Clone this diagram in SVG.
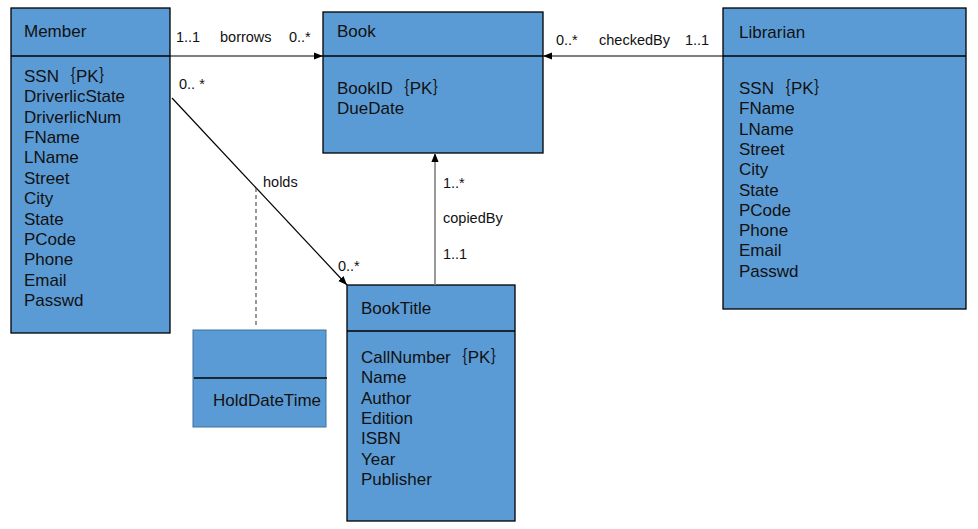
<svg xmlns="http://www.w3.org/2000/svg" width="978" height="529" viewBox="0 0 978 529">
<defs>
<style>
.box{fill:#5b9bd5;stroke:#000;stroke-width:1.3}
.div{stroke:#000;stroke-width:1.3}
text{font-family:"Liberation Sans","Noto Sans CJK SC",Arial,sans-serif;fill:#111}
.t{font-size:17px}
.a{font-size:17px}
.l{font-size:14.5px}
.conn{stroke:#000;stroke-width:1.2;fill:none}
</style>
<marker id="arr" viewBox="0 0 10 10" refX="10" refY="5" markerWidth="9" markerHeight="9" markerUnits="userSpaceOnUse" orient="auto">
<path d="M0,1 L10,5 L0,9 Z" fill="#000"/>
</marker>
</defs>
<rect width="978" height="529" fill="#fff"/>

<g id="member">
<rect class="box" x="11" y="8" width="159" height="325"/>
<line class="div" x1="11" y1="56" x2="170" y2="56"/>
<text class="t" x="24" y="37">Member</text>
<text class="a" x="24" y="82">SSN｛PK｝</text>
<text class="a" x="24" y="102.4">DriverlicState</text>
<text class="a" x="24" y="122.7">DriverlicNum</text>
<text class="a" x="24" y="143.1">FName</text>
<text class="a" x="24" y="163.4">LName</text>
<text class="a" x="24" y="183.8">Street</text>
<text class="a" x="24" y="204.2">City</text>
<text class="a" x="24" y="224.5">State</text>
<text class="a" x="24" y="244.9">PCode</text>
<text class="a" x="24" y="265.2">Phone</text>
<text class="a" x="24" y="285.6">Email</text>
<text class="a" x="24" y="306">Passwd</text>
</g>

<g id="book">
<rect class="box" x="323" y="12" width="220" height="141"/>
<line class="div" x1="323" y1="56" x2="543" y2="56"/>
<text class="t" x="337" y="37">Book</text>
<text class="a" x="337" y="94">BookID｛PK｝</text>
<text class="a" x="337" y="114">DueDate</text>
</g>

<g id="librarian">
<rect class="box" x="723" y="8" width="243" height="301"/>
<line class="div" x1="723" y1="56" x2="966" y2="56"/>
<text class="t" x="739" y="38">Librarian</text>
<text class="a" x="739" y="94">SSN｛PK｝</text>
<text class="a" x="739" y="114.3">FName</text>
<text class="a" x="739" y="134.6">LName</text>
<text class="a" x="739" y="154.9">Street</text>
<text class="a" x="739" y="175.2">City</text>
<text class="a" x="739" y="195.5">State</text>
<text class="a" x="739" y="215.8">PCode</text>
<text class="a" x="739" y="236.1">Phone</text>
<text class="a" x="739" y="256.4">Email</text>
<text class="a" x="739" y="276.7">Passwd</text>
</g>

<g id="booktitle">
<rect class="box" x="347" y="285" width="168" height="236"/>
<line class="div" x1="347" y1="331" x2="515" y2="331"/>
<text class="t" x="361" y="314">BookTitle</text>
<text class="a" x="361" y="363">CallNumber｛PK｝</text>
<text class="a" x="361" y="383.3">Name</text>
<text class="a" x="361" y="403.7">Author</text>
<text class="a" x="361" y="424">Edition</text>
<text class="a" x="361" y="444.3">ISBN</text>
<text class="a" x="361" y="464.7">Year</text>
<text class="a" x="361" y="485">Publisher</text>
</g>

<g id="hold">
<rect x="193" y="330" width="133" height="97" fill="#5b9bd5" stroke="#41719c" stroke-width="1"/>
<line class="div" x1="194" y1="378" x2="327" y2="378"/>
<text class="a" x="213" y="406">HoldDateTime</text>
</g>

<g id="connectors">
<line class="conn" x1="170" y1="56" x2="323" y2="56" marker-end="url(#arr)"/>
<line class="conn" x1="723" y1="56" x2="543" y2="56" marker-end="url(#arr)"/>
<line class="conn" x1="172" y1="98" x2="347" y2="285" marker-end="url(#arr)"/>
<line x1="435" y1="285" x2="435" y2="153" stroke="#7f7f7f" stroke-width="1.6" marker-end="url(#arr)"/>
<line x1="256" y1="188" x2="256" y2="328" stroke="#444" stroke-width="1.1" stroke-dasharray="4,3"/>
<text class="l" x="176" y="42">1..1</text>
<text class="l" x="220" y="42">borrows</text>
<text class="l" x="289" y="42">0..*</text>
<text class="l" x="556" y="45">0..*</text>
<text class="l" x="599" y="45">checkedBy</text>
<text class="l" x="685" y="45">1..1</text>
<text class="l" x="179" y="89">0.. *</text>
<text class="l" x="263" y="187">holds</text>
<text class="l" x="338" y="271">0..*</text>
<text class="l" x="443" y="188">1..*</text>
<text class="l" x="443" y="223">copiedBy</text>
<text class="l" x="443" y="259">1..1</text>
</g>
</svg>
